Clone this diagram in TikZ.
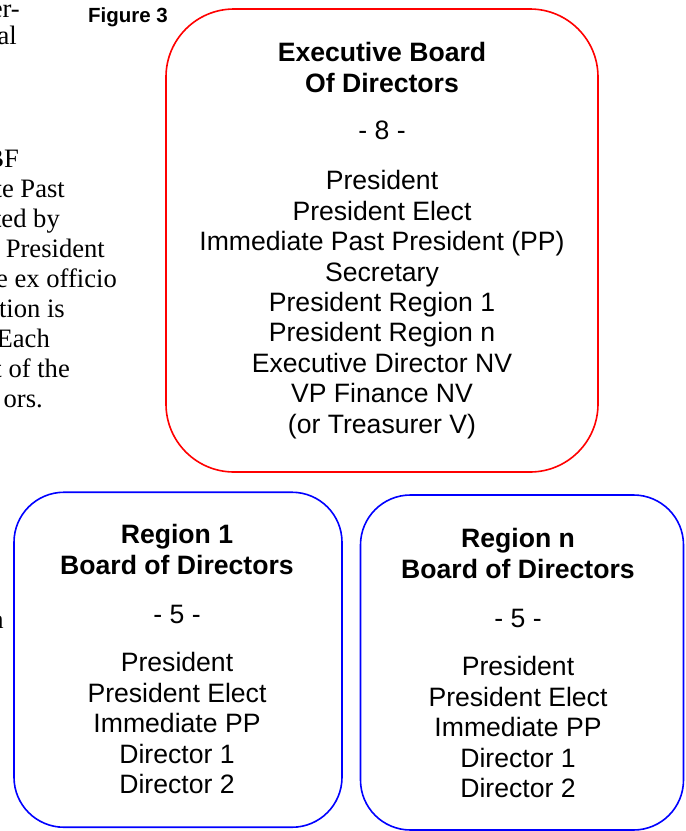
\documentclass[tikz,border=0pt]{standalone}
\usepackage{fontspec}
\setmainfont{Liberation Sans}
\newfontfamily\serifpage{Liberation Serif}
\usetikzlibrary{positioning}

\tikzset{
  execbox/.style={draw=red, line width=1.6pt, rounded corners=68pt,
    minimum width=432pt, minimum height=463pt, inner sep=0pt},
  regionbox/.style={draw=blue, line width=1.6pt, rounded corners=50pt,
    minimum width=#1, minimum height=335pt, inner sep=0pt},
  boardtext/.style={align=center, inner sep=0pt, font=\fontsize{26.6}{30.4}\selectfont},
  pagetext/.style={anchor=base east, inner sep=0pt, font=\serifpage\fontsize{26.6}{30}\selectfont},
}

\begin{document}
\begin{tikzpicture}[x=1pt, y=-1pt]
  \useasboundingbox (0,0) rectangle (686,831);

  % cut off text of the page
  \foreach \x/\y/\t [count=\i] in {20/17/er-, 17/44/al, 19/167/BF, 65/197/te Past,
      60/227/ted by, 105/257/President, 117/287/e ex officio, 65/317/tion is,
      50/347/Each, 70/377/t of the, 43/407/ors., 4/628/n}
    \node[pagetext] (page\i) at (\x,\y) {\t};

  \node[anchor=base east, inner sep=0pt, font=\bfseries\fontsize{20.5}{24}\selectfont]
    (figlabel) at (168,22) {Figure 3};

  % executive board
  \node[execbox] (exec) at (382,240.5) {};
  \node[boardtext] (exectext) at (exec.center) {\textbf{Executive Board}\\
    \textbf{Of Directors}\\[17.5pt]
    - 8 -\\[19.5pt]
    President\\ President Elect\\ Immediate Past President (PP)\\ Secretary\\
    President Region 1\\ President Region n\\ Executive Director NV\\
    VP Finance NV\\ (or Treasurer V)};

  % regions
  \node[regionbox=328pt] (reg1) at (178,659.75) {};
  \node[boardtext] (reg1text) at (177,659) {\textbf{Region 1}\\
    \textbf{Board of Directors}\\[19pt]
    - 5 -\\[18pt]
    President\\ President Elect\\ Immediate PP\\ Director 1\\ Director 2};

  \node[regionbox=323pt] (regn) at (522,662.5) {};
  \node[boardtext] (regntext) at (518,663) {\textbf{Region n}\\
    \textbf{Board of Directors}\\[19pt]
    - 5 -\\[18pt]
    President\\ President Elect\\ Immediate PP\\ Director 1\\ Director 2};
\end{tikzpicture}
\end{document}
